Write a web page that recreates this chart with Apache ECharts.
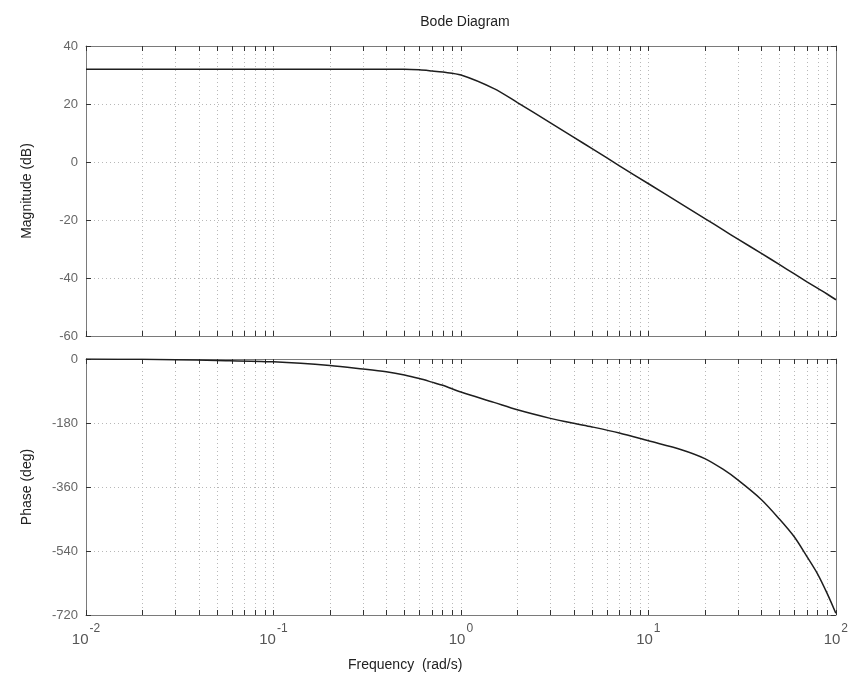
<!DOCTYPE html>
<html>
<head>
<meta charset="utf-8">
<script src="https://cdn.jsdelivr.net/npm/echarts@6/dist/echarts.min.js"></script>
<style>
  html, body { margin: 0; padding: 0; background: #fff; }
  #chart { width: 851px; height: 686px; }
</style>
</head>
<body>
<div id="chart"></div>
<script>
// frequencies (rad/s)
const freq = [0.01, 0.02, 0.03, 0.05, 0.1, 0.2, 0.3, 0.4, 0.5, 0.6, 0.7, 0.8, 1, 1.5, 2, 3, 4, 5, 7, 10, 15, 20, 25, 30, 40, 50, 60, 70, 80, 90, 100];
const magnitude = [32, 32, 32, 32, 32, 32, 32, 32, 32, 31.8, 31.4, 31, 30, 25.3, 20.5, 13.5, 8.5, 4.6, -1.3, -7.5, -14.5, -19.5, -23.4, -26.6, -31.5, -35.4, -38.6, -41.3, -43.6, -45.6, -47.5];
const phase = [0, -1, -2, -4, -8, -18, -28, -36, -45, -55, -65, -74, -93, -122, -143, -167, -181, -191, -208, -230, -255, -280, -310, -340, -395, -450, -500, -555, -605, -660, -715];

const magTicks = [-60, -40, -20, 0, 20, 40];
const phaseTicks = [-720, -540, -360, -180, 0];
const decades = [0.01, 0.1, 1, 10, 100];

// minor log positions 1..9 x 10^n
const logTicks = [];
[-2, -1, 0, 1].forEach(function (n) {
  for (let k = 1; k < 10; k++) logTicks.push(+(k * Math.pow(10, n)).toPrecision(3));
});
logTicks.push(100);

const chart = echarts.init(document.getElementById('chart'));

const gray = '#7a7a7a';
const gridLine = { show: true, lineStyle: { color: '#b8b8b8', type: [1, 3], width: 1 } };

function xAxisFor (gridIndex, position, showLabel) {
  return {
    type: 'log',
    logBase: 10,
    gridIndex: gridIndex,
    position: position,
    min: 0.01,
    max: 100,
    axisLine: { show: true, onZero: false, lineStyle: { color: gray } },
    axisTick: { show: true, inside: true, length: 5, customValues: logTicks, lineStyle: { color: '#333' } },
    splitLine: position === 'bottom' ? gridLine : { show: false },
    axisLabel: showLabel ? {
      show: true,
      customValues: decades,
      margin: 8,
      formatter: function (v) {
        const e = Math.round(Math.log10(v));
        return '{b|10}{e|' + e + '}';
      },
      rich: {
        b: { fontSize: 15, color: '#555', fontFamily: 'Liberation Sans', lineHeight: 24, verticalAlign: 'bottom' },
        e: { fontSize: 12, color: '#555', fontFamily: 'Liberation Sans', lineHeight: 24, verticalAlign: 'top', padding: [0, 0, 0, 1] }
      }
    } : { show: false }
  };
}

function yAxisFor (gridIndex, position, min, max, interval, name, showLabel) {
  return {
    type: 'value',
    gridIndex: gridIndex,
    position: position,
    min: min,
    max: max,
    interval: interval,
    name: showLabel ? name : '',
    nameLocation: 'middle',
    nameGap: 52,
    nameTextStyle: { fontSize: 14, color: '#222', fontFamily: 'Liberation Sans' },
    axisLine: { show: true, lineStyle: { color: gray } },
    axisTick: { show: true, inside: true, length: 5, lineStyle: { color: '#333' } },
    splitLine: position === 'left' ? gridLine : { show: false },
    axisLabel: showLabel ? { show: true, fontSize: 13, color: '#666', fontFamily: 'Liberation Sans', margin: 8 } : { show: false }
  };
}

function lineSeries (axisIndex, values) {
  return {
    type: 'line',
    xAxisIndex: axisIndex,
    yAxisIndex: axisIndex,
    data: freq.map(function (f, i) { return [f, values[i]]; }),
    smooth: 0.3,
    showSymbol: false,
    lineStyle: { color: '#1e1e1e', width: 1.5 }
  };
}

chart.setOption({
  backgroundColor: '#fff',
  animation: false,
  title: {
    text: 'Bode Diagram',
    left: 460,
    textAlign: 'center',
    top: 10,
    textStyle: { fontSize: 14, fontWeight: 'normal', color: '#222', fontFamily: 'Liberation Sans' }
  },
  grid: [
    { left: 86, right: 15, top: 46, height: 290 },
    { left: 86, right: 15, top: 359, height: 256 }
  ],
  xAxis: [
    xAxisFor(0, 'bottom', false),
    xAxisFor(0, 'top', false),
    xAxisFor(1, 'bottom', true),
    xAxisFor(1, 'top', false)
  ],
  yAxis: [
    yAxisFor(0, 'left', -60, 40, 20, 'Magnitude (dB)', true),
    yAxisFor(0, 'right', -60, 40, 20, '', false),
    yAxisFor(1, 'left', -720, 0, 180, 'Phase (deg)', true),
    yAxisFor(1, 'right', -720, 0, 180, '', false)
  ],
  graphic: [{
    type: 'text',
    left: 348,
    top: 658,
    style: { text: 'Frequency  (rad/s)', fontSize: 14, fill: '#222', fontFamily: 'Liberation Sans' }
  }],
  series: [
    lineSeries(0, magnitude),
    lineSeries(2, phase)
  ]
});
</script>
</body>
</html>
